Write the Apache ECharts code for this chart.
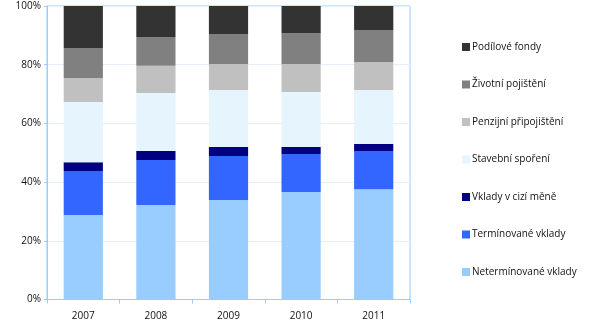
<!DOCTYPE html>
<html><head><meta charset="utf-8">
<script src="https://cdn.jsdelivr.net/npm/echarts@6/dist/echarts.min.js"></script>
<style>html,body{margin:0;padding:0;background:#fff}#c{width:601px;height:329px}</style>
</head><body><div id="c"></div>
<script>
const categories = ['2007','2008','2009','2010','2011'];
const seriesNames = ['Netermínované vklady','Termínované vklady','Vklady v cizí měně','Stavební spoření','Penzijní připojištění','Životní pojištění','Podílové fondy'];
const netermVklady = [28.8, 32.2, 33.9, 36.6, 37.6];
const termVklady   = [15.0, 15.3, 15.0, 13.0, 13.0];
const ciziMena     = [3.0, 3.1, 3.1, 2.4, 2.4];
const stavebni     = [20.5, 19.8, 19.4, 18.7, 18.4];
const penzijni     = [8.2, 9.2, 8.8, 9.5, 9.5];
const zivotni      = [10.2, 9.8, 10.3, 10.6, 10.9];
const podilove     = [14.3, 10.6, 9.5, 9.2, 8.2];
const yTicks = [0, 20, 40, 60, 80, 100];
const colors = ['#99ccff','#3366ff','#000080','#e6f4fd','#c0c0c0','#808080','#333333'];
const values = [netermVklady, termVklady, ciziMena, stavebni, penzijni, zivotni, podilove];

const chart = echarts.init(document.getElementById('c'), null, {renderer:'canvas'});
chart.setOption({
  animation:false,
  textStyle:{fontFamily:'"Open Sans", sans-serif'},
  grid:{left:47, right:191, top:6, bottom:29.5, show:true, borderColor:'#99ccff', borderWidth:1, backgroundColor:'transparent'},
  legend:{
    orient:'vertical', left:462, top:42, padding:0, itemWidth:8, itemHeight:8, itemGap:27.5,
    data: seriesNames.slice().reverse(),
    textStyle:{fontSize:10, color:'#111', padding:[0,0,0,-3]},
    icon:'rect'
  },
  xAxis:{type:'category', data:categories,
    axisLine:{lineStyle:{color:'#99ccff'}},
    axisTick:{show:true, length:4, lineStyle:{color:'#99ccff'}},
    axisLabel:{fontSize:10, color:'#111', margin:12}
  },
  yAxis:{type:'value', min:0, max:100, interval:20,
    axisLine:{show:true, lineStyle:{color:'#99ccff'}},
    axisTick:{show:true, length:3, lineStyle:{color:'#99ccff'}},
    splitLine:{lineStyle:{color:'#e3f0fc'}},
    axisLabel:{fontSize:10, color:'#111', margin:6, formatter: v => yTicks.includes(v) ? v + '%' : ''}
  },
  series: seriesNames.map((n,i)=>({
    name:n, type:'bar', stack:'s', data:values[i], barWidth:'54%',
    itemStyle:{color:colors[i]}
  }))
});
</script></body></html>
